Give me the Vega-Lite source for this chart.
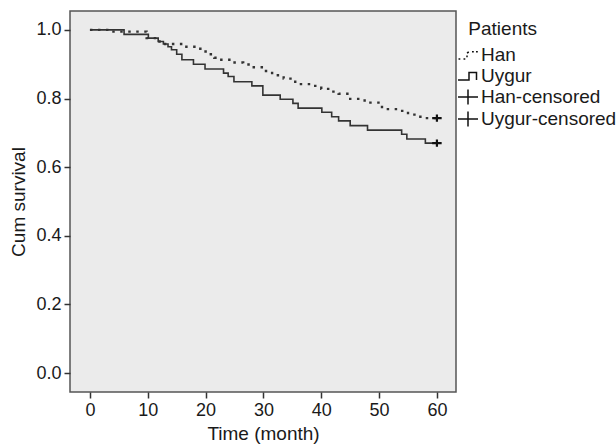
{
  "$schema": "https://vega.github.io/schema/vega-lite/v6.json",
  "width": 386,
  "height": 381,
  "autosize": {"type": "none"},
  "padding": {"left": 70, "top": 11, "right": 160, "bottom": 54},
  "background": "white",
  "config": {
    "font": "Liberation Sans",
    "view": {"fill": "#ebebeb", "stroke": "#555555", "strokeWidth": 1.5},
    "axis": {
      "labelFont": "Liberation Sans", "labelFontSize": 18, "labelColor": "#1a1a1a",
      "titleFont": "Liberation Sans", "titleFontSize": 19, "titleFontWeight": "normal", "titleColor": "#1a1a1a",
      "tickColor": "#333333", "tickSize": 6, "tickWidth": 1.5, "domain": false, "grid": false, "labelPadding": 3
    },
    "legend": {
      "labelFont": "Liberation Sans", "labelFontSize": 19, "labelColor": "#1a1a1a",
      "titleFont": "Liberation Sans", "titleFontSize": 19, "titleFontWeight": "normal", "titleColor": "#1a1a1a"
    }
  },
  "datasets": {
    "curves": [
      {"series": "Han", "time": 0, "surv": 1.0},
      {"series": "Han", "time": 3.7, "surv": 0.995},
      {"series": "Han", "time": 9.8, "surv": 0.976},
      {"series": "Han", "time": 11.8, "surv": 0.966},
      {"series": "Han", "time": 12.7, "surv": 0.959},
      {"series": "Han", "time": 16.0, "surv": 0.951},
      {"series": "Han", "time": 18.5, "surv": 0.945},
      {"series": "Han", "time": 19.5, "surv": 0.937},
      {"series": "Han", "time": 20.5, "surv": 0.929},
      {"series": "Han", "time": 21.5, "surv": 0.919},
      {"series": "Han", "time": 22.3, "surv": 0.913},
      {"series": "Han", "time": 24.5, "surv": 0.905},
      {"series": "Han", "time": 26.5, "surv": 0.899},
      {"series": "Han", "time": 28.0, "surv": 0.891},
      {"series": "Han", "time": 30.0, "surv": 0.880},
      {"series": "Han", "time": 31.5, "surv": 0.868},
      {"series": "Han", "time": 33.5, "surv": 0.858},
      {"series": "Han", "time": 35.5, "surv": 0.842},
      {"series": "Han", "time": 38.5, "surv": 0.837},
      {"series": "Han", "time": 40.0, "surv": 0.828},
      {"series": "Han", "time": 41.5, "surv": 0.820},
      {"series": "Han", "time": 43.0, "surv": 0.814},
      {"series": "Han", "time": 45.0, "surv": 0.799},
      {"series": "Han", "time": 47.5, "surv": 0.788},
      {"series": "Han", "time": 50.5, "surv": 0.769},
      {"series": "Han", "time": 53.5, "surv": 0.764},
      {"series": "Han", "time": 55.0, "surv": 0.753},
      {"series": "Han", "time": 56.5, "surv": 0.747},
      {"series": "Han", "time": 58.0, "surv": 0.743},
      {"series": "Han", "time": 60.0, "surv": 0.743},
      {"series": "Uygur", "time": 0, "surv": 1.0},
      {"series": "Uygur", "time": 5.9, "surv": 0.987},
      {"series": "Uygur", "time": 10.1, "surv": 0.976},
      {"series": "Uygur", "time": 11.8, "surv": 0.966},
      {"series": "Uygur", "time": 12.7, "surv": 0.959},
      {"series": "Uygur", "time": 13.5, "surv": 0.951},
      {"series": "Uygur", "time": 14.1, "surv": 0.942},
      {"series": "Uygur", "time": 15.0, "surv": 0.929},
      {"series": "Uygur", "time": 15.9, "surv": 0.913},
      {"series": "Uygur", "time": 17.9, "surv": 0.900},
      {"series": "Uygur", "time": 19.9, "surv": 0.886},
      {"series": "Uygur", "time": 23.1, "surv": 0.874},
      {"series": "Uygur", "time": 23.9, "surv": 0.864},
      {"series": "Uygur", "time": 24.9, "surv": 0.849},
      {"series": "Uygur", "time": 28.0, "surv": 0.837},
      {"series": "Uygur", "time": 29.9, "surv": 0.810},
      {"series": "Uygur", "time": 32.9, "surv": 0.798},
      {"series": "Uygur", "time": 35.1, "surv": 0.786},
      {"series": "Uygur", "time": 36.0, "surv": 0.772},
      {"series": "Uygur", "time": 40.1, "surv": 0.760},
      {"series": "Uygur", "time": 41.8, "surv": 0.747},
      {"series": "Uygur", "time": 43.0, "surv": 0.735},
      {"series": "Uygur", "time": 45.0, "surv": 0.721},
      {"series": "Uygur", "time": 48.0, "surv": 0.708},
      {"series": "Uygur", "time": 53.9, "surv": 0.696},
      {"series": "Uygur", "time": 54.8, "surv": 0.682},
      {"series": "Uygur", "time": 58.0, "surv": 0.670},
      {"series": "Uygur", "time": 60.0, "surv": 0.670}
    ],
    "censor": [
      {"series": "Han-censored", "time": 60, "surv": 0.743},
      {"series": "Uygur-censored", "time": 60, "surv": 0.670}
    ]
  },
  "layer": [
    {
      "data": {"name": "curves"},
      "mark": {"type": "line", "interpolate": "step-after", "color": "#333333"},
      "encoding": {
        "x": {"field": "time", "type": "quantitative", "scale": {"domain": [-3.45, 63.3], "nice": false, "zero": false},
              "axis": {"values": [0, 10, 20, 30, 40, 50, 60], "title": "Time (month)", "titlePadding": 5}},
        "y": {"field": "surv", "type": "quantitative", "scale": {"domain": [-0.055, 1.055], "nice": false, "zero": false},
              "axis": {"values": [0, 0.2, 0.4, 0.6, 0.8, 1.0], "format": ".1f", "title": "Cum survival", "titlePadding": 7}},
        "detail": {"field": "series"},
        "strokeDash": {"field": "series", "type": "nominal", "scale": {"domain": ["Han", "Uygur"], "range": [[2.5, 5.5], [1, 0]]}, "legend": null},
        "strokeWidth": {"field": "series", "type": "nominal", "scale": {"domain": ["Han", "Uygur"], "range": [2.4, 1.6]}, "legend": null}
      }
    },
    {
      "data": {"name": "censor"},
      "mark": {"type": "point", "filled": false, "stroke": "#111111", "strokeWidth": 2.2, "size": 90, "opacity": 1},
      "encoding": {
        "x": {"field": "time", "type": "quantitative"},
        "y": {"field": "surv", "type": "quantitative"},
        "shape": {
          "field": "series", "type": "nominal",
          "scale": {
            "domain": ["Han", "Uygur", "Han-censored", "Uygur-censored"],
            "range": [
              "M-0.95,0.4L-0.77,0.4M-0.45,0.4L-0.27,0.4M-0.1,0.22L-0.1,0.04M-0.1,-0.2L0.08,-0.3M0.4,-0.32L0.58,-0.32M0.8,-0.32L0.98,-0.32",
              "M-1,0.4L0.1,0.4L0.1,-0.35L0.85,-0.35L0.85,0.4",
              "M-1,0L1,0M0,-0.75L0,0.75",
              "M-1,0L1,0M0,-0.75L0,0.75"
            ]
          },
          "legend": {
            "title": "Patients",
            "orient": "none",
            "legendX": 387,
            "legendY": 9,
            "padding": 0,
            "symbolSize": 400,
            "labelOffset": 2,
            "rowPadding": -3,
            "titlePadding": 5,
            "titleAnchor": "middle",
            "titleAlign": "right",
            "encode": {
              "symbols": {"update": {
                "size": {"value": 484},
                "stroke": {"value": "#222222"},
                "fill": {"value": "transparent"},
                "strokeWidth": {"value": 1.4}
              }}
            }
          }
        }
      }
    }
  ]
}
